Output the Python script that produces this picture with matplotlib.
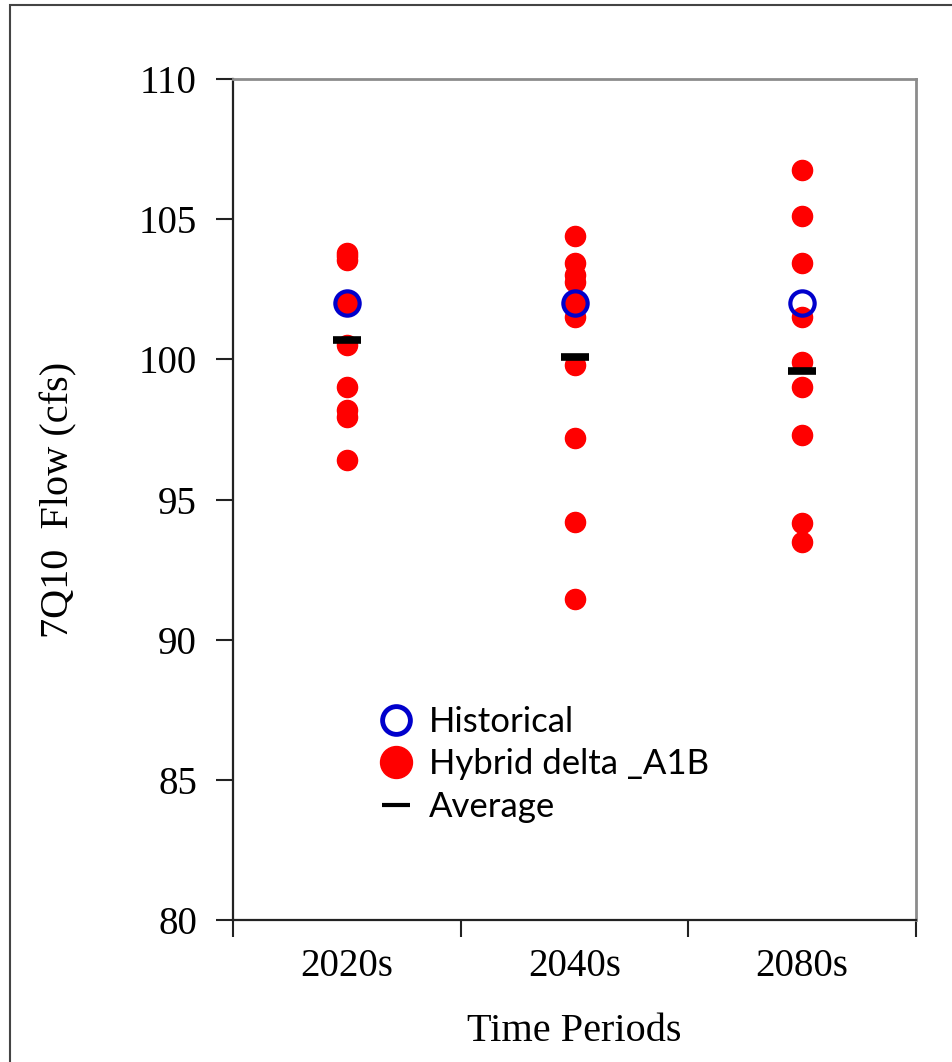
import matplotlib
matplotlib.use("Agg")
import matplotlib.pyplot as plt
from matplotlib.lines import Line2D
from matplotlib.patches import Rectangle

periods = ["2020s", "2040s", "2080s"]
historical = [102.0, 102.0, 102.0]
hybrid_2020s = [103.8, 103.7, 103.55, 102.0, 102.0, 100.5, 99.0, 98.2, 97.95, 96.4]
hybrid_2040s = [104.4, 103.45, 103.0, 102.75, 102.0, 101.5, 99.8, 97.2, 94.2, 91.45]
hybrid_2080s = [106.75, 105.1, 103.45, 101.5, 99.9, 99.0, 97.3, 94.15, 93.5]
averages = [100.7, 100.1, 99.6]
yticks = [80, 85, 90, 95, 100, 105, 110]

W, H = 952, 1062
fig = plt.figure(figsize=(W / 100, H / 100), dpi=100)
ax = fig.add_axes([233 / W, 1 - 920 / H, (916 - 233) / W, (920 - 79) / H])

serif = ["Liberation Serif", "DejaVu Serif"]
xs = [0.5, 1.5, 2.5]
hybrids = [hybrid_2020s, hybrid_2040s, hybrid_2080s]

for x, vals in zip(xs, hybrids):
    ax.plot([x] * len(vals), vals, linestyle="none", marker="o", ms=14.5,
            mfc="#ff0000", mec="#ff0000", zorder=3)
ax.plot(xs, historical, linestyle="none", marker="o", ms=17.5, mfc="none",
        mec="#0000cc", mew=3.0, zorder=4)
ax.plot(xs, averages, linestyle="none", marker="_", ms=20, mec="black",
        mew=5.5, zorder=5)

ax.set_xlim(0, 3)
ax.set_ylim(80, 110)
ax.set_yticks(yticks)
ax.set_yticklabels([str(v) for v in yticks], fontfamily=serif, fontsize=28)
ax.set_xticks([0, 1, 2, 3])
ax.set_xticklabels([])
ax.set_xticks(xs, minor=True)
ax.set_xticklabels(periods, minor=True, fontfamily=serif, fontsize=28)
ax.tick_params(axis="x", which="minor", length=0, pad=20)
ax.tick_params(axis="x", which="major", direction="out", length=12, width=1.5, color="#222222")
ax.tick_params(axis="y", direction="out", length=12, width=1.5, color="#222222", pad=14)

for s in ["left", "bottom"]:
    ax.spines[s].set_color("#222222")
    ax.spines[s].set_linewidth(1.6)
for s in ["top", "right"]:
    ax.spines[s].set_color("#8c8c8c")
    ax.spines[s].set_linewidth(2.0)

ax.set_ylabel("7Q10  Flow (cfs)", fontfamily=serif, fontsize=29, labelpad=44)
ax.set_xlabel("Time Periods", fontfamily=serif, fontsize=29, labelpad=20)

handles = [
    Line2D([], [], linestyle="none", marker="o", ms=20, mfc="none", mec="#0000cc", mew=3.5),
    Line2D([], [], linestyle="none", marker="o", ms=23, mfc="#ff0000", mec="#ff0000"),
    Line2D([], [], linestyle="none", marker="_", ms=20, mec="black", mew=3.0),
]
leg = ax.legend(handles, ["Historical", "Hybrid delta _A1B", "Average"],
                loc="upper left", bbox_to_anchor=((365 - 233) / (916 - 233), (920 - 692) / (920 - 79)),
                frameon=False, prop={"family": ["Lato", "DejaVu Sans"], "size": 25},
                handlelength=1.0, handletextpad=0.45, labelspacing=0.3, borderaxespad=0)

fig.patches.append(Rectangle((10 / W, -0.05), 1.0, 1 - 5 / H + 0.05, transform=fig.transFigure,
                             fill=False, edgecolor="#444444", linewidth=1.5))

fig.savefig("out.png", dpi=100)
